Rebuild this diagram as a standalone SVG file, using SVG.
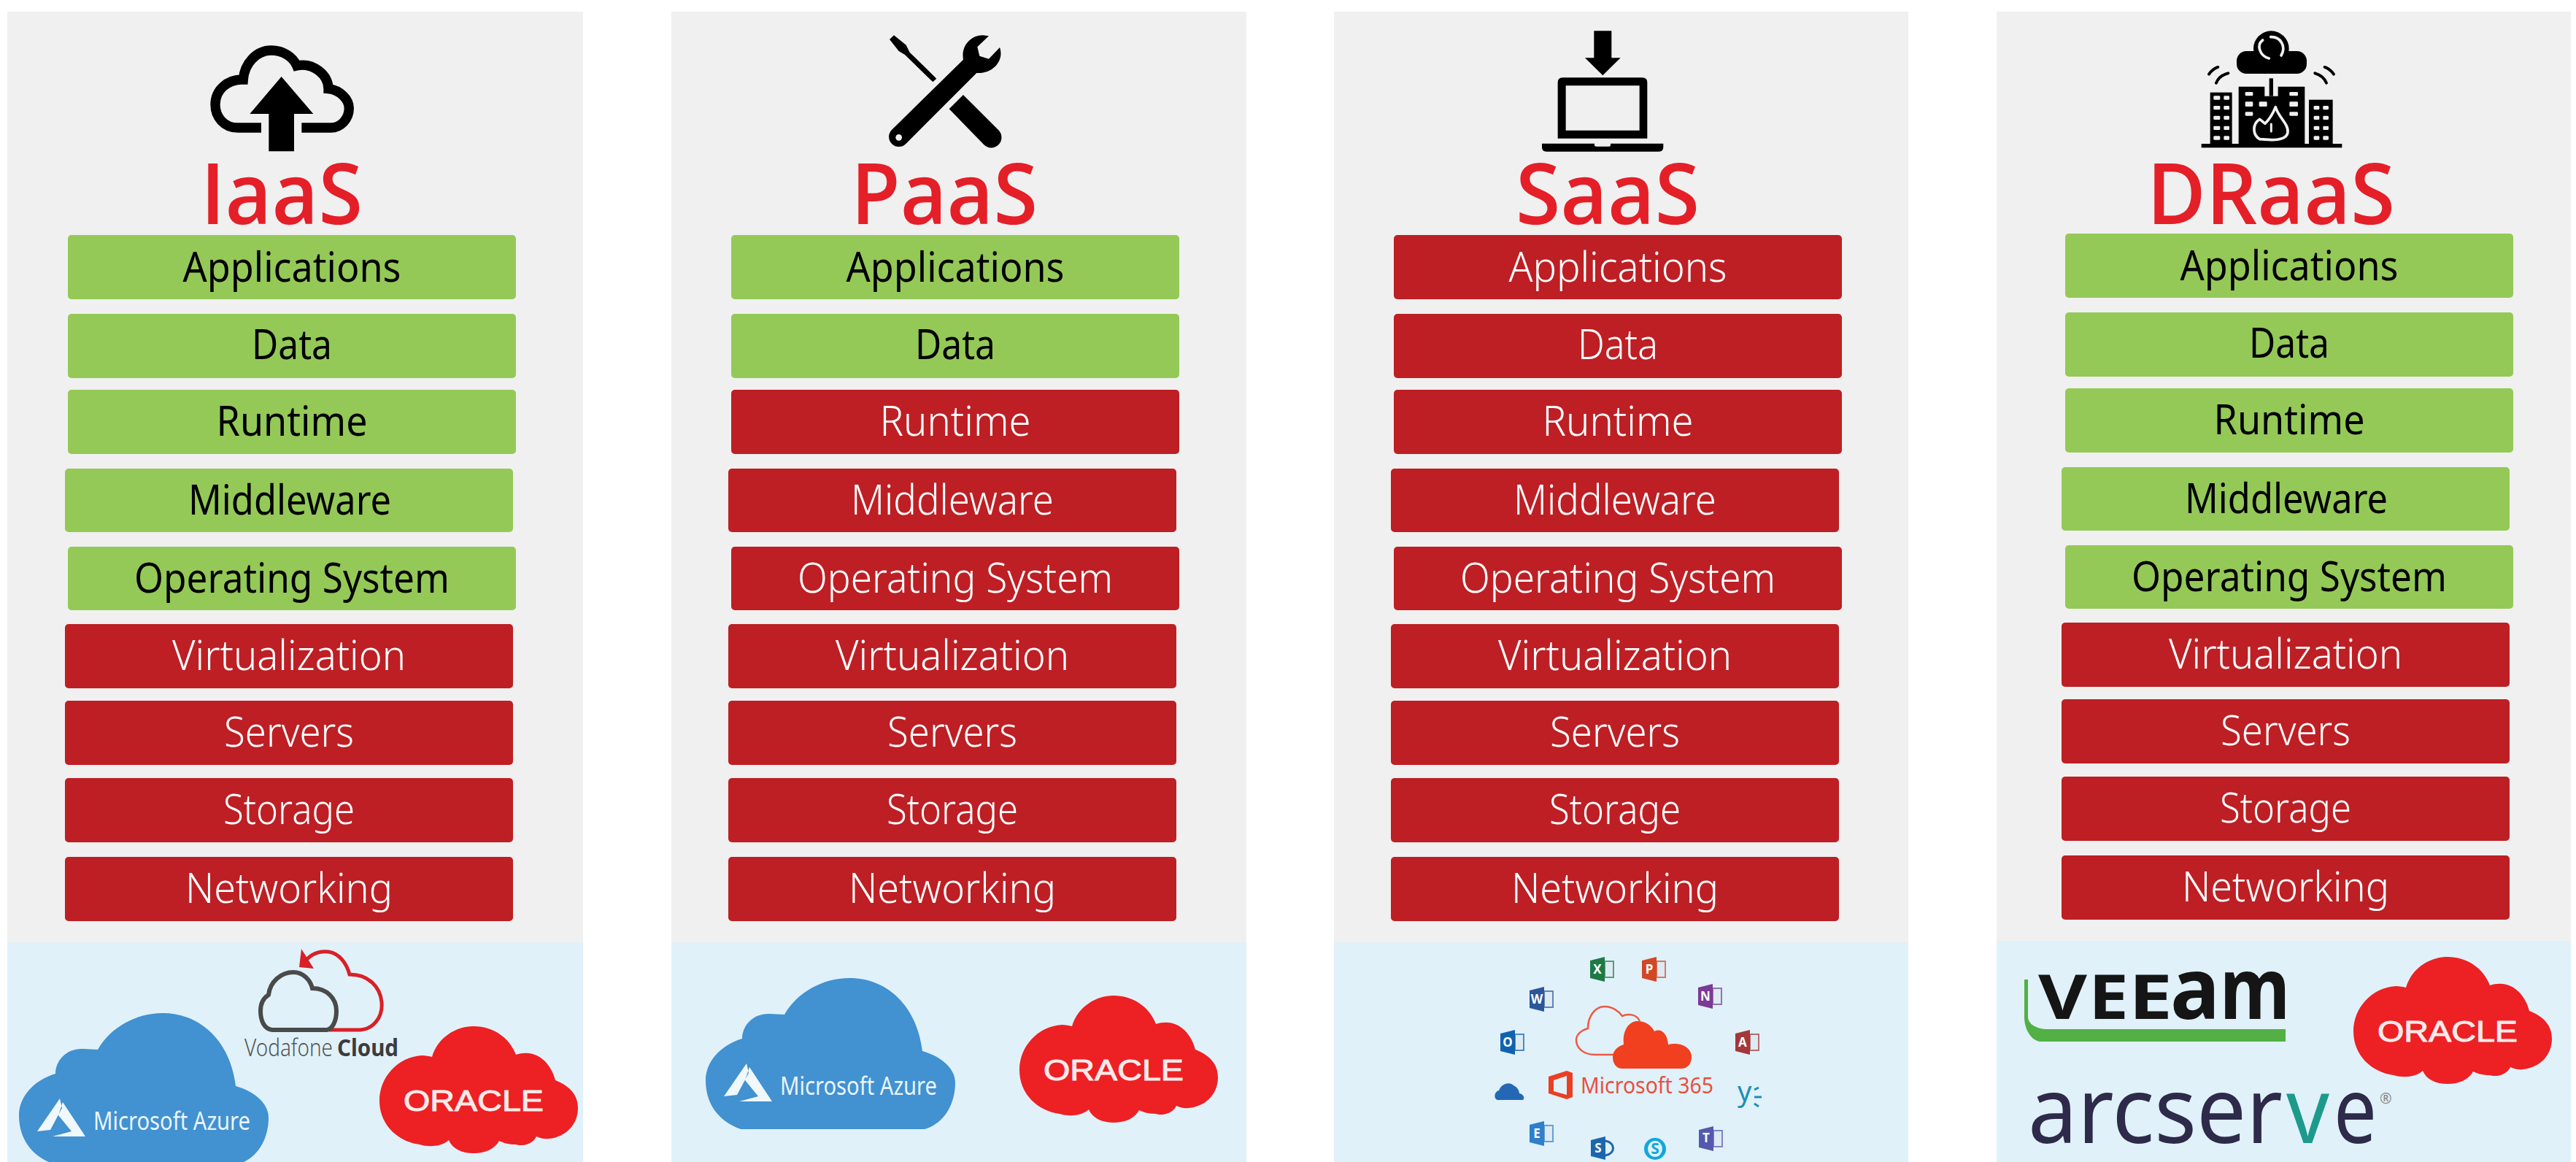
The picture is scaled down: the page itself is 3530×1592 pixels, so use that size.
<svg xmlns="http://www.w3.org/2000/svg" width="3530" height="1592" viewBox="0 0 3530 1592">
<style>
text{font-family:"Noto Sans","Open Sans","DejaVu Sans",sans-serif}
.panel{fill:#f0f0f0}.vendor{fill:#e0f1f9}
.g{fill:#94c957}.r{fill:#bd1f24}
.lg{fill:#000;font-size:57px;text-anchor:middle}.lr{fill:#fff;font-size:57px;text-anchor:middle;font-weight:300}
.title{fill:#e41f28;font-family:"Open Sans","Noto Sans",sans-serif;font-size:116px;font-weight:600}
.azure{fill:#4291d1}.oracle{fill:#ed2024}
.ot{fill:#fbeaea;stroke:#fbeaea;stroke-width:1;font-family:"Liberation Sans",sans-serif;font-size:40px}
.at{fill:#e9f5fb;font-size:34px}
.app{fill:#fff;font-size:17px;font-weight:700;text-anchor:middle}
</style>
<defs>
<path id="azureShape" class="azure" d="M48 207C15 195 0 170 0 140C0 115 20 92 50 83C50 65 65 48 88 49L108 50C125 20 160 0 197 0C250 0 290 40 297 100C325 108 342 125 342 143C342 175 325 200 300 207Z"/>
<path id="azureMark" fill="#f0f8fc" d="M56 117L25 162L43 160L59 130ZM60 122L91 169L46 169L72 162L54 140Z"/>
<path id="oracleShape" class="oracle" d="M72 42C80 15 105 0 129 0C155 0 178 15 187 39C215 30 235 50 241 74C262 82 272 95 272 112C272 135 255 152 232 154C225 155 220 153 215 151C210 162 195 165 187 162C178 162 170 160 164 157C158 168 145 174 129 174C113 174 100 168 95 156C85 165 68 166 55 162C25 158 0 135 0 102C0 70 25 42 58 40C63 40 68 41 72 42Z"/>
<g id="book"><path fill="currentColor" d="M0 5L20 0V34L0 29Z"/><rect x="20" y="6" width="12" height="22" fill="#dce8f0" stroke="currentColor" stroke-width="2" opacity=".7"/></g>
</defs>

<g id="iaas">
<rect class="panel" x="10" y="16" width="789" height="1275"/>
<rect class="vendor" x="10" y="1291" width="789" height="301"/>
<g transform="translate(200 40) scale(.3333)"><path d="M474 405H378C320 405 285 360 285 310C285 250 335 205 400 207C405 140 455 87 515 87C565 87 605 115 620 150C690 135 750 190 750 245C800 250 835 290 835 325C835 370 800 405 760 405H640" fill="none" stroke="#000" stroke-width="40"/><path d="M557 195L688 348H609V502H505V348H427Z"/></g>
<text class="title" x="275" y="307" textLength="222" lengthAdjust="spacingAndGlyphs">IaaS</text>
<g id="iaas-applications"><rect class="g" x="93" y="322" width="614" height="88" rx="5"/><text class="lg" x="400" y="386" textLength="299" lengthAdjust="spacingAndGlyphs">Applications</text></g>
<g id="iaas-data"><rect class="g" x="93" y="430" width="614" height="88" rx="5"/><text class="lg" x="400" y="492" textLength="110" lengthAdjust="spacingAndGlyphs">Data</text></g>
<g id="iaas-runtime"><rect class="g" x="93" y="534" width="614" height="88" rx="5"/><text class="lg" x="400" y="597" textLength="207" lengthAdjust="spacingAndGlyphs">Runtime</text></g>
<g id="iaas-middleware"><rect class="g" x="89" y="642" width="614" height="87" rx="5"/><text class="lg" x="397" y="705" textLength="278" lengthAdjust="spacingAndGlyphs">Middleware</text></g>
<g id="iaas-os"><rect class="g" x="93" y="749" width="614" height="87" rx="5"/><text class="lg" x="400" y="812" textLength="432" lengthAdjust="spacingAndGlyphs">Operating System</text></g>
<g id="iaas-virtualization"><rect class="r" x="89" y="855" width="614" height="88" rx="5"/><text class="lr" x="396" y="918" textLength="320" lengthAdjust="spacingAndGlyphs">Virtualization</text></g>
<g id="iaas-servers"><rect class="r" x="89" y="960" width="614" height="88" rx="5"/><text class="lr" x="396" y="1023" textLength="178" lengthAdjust="spacingAndGlyphs">Servers</text></g>
<g id="iaas-storage"><rect class="r" x="89" y="1066" width="614" height="88" rx="5"/><text class="lr" x="396" y="1129" textLength="180" lengthAdjust="spacingAndGlyphs">Storage</text></g>
<g id="iaas-networking"><rect class="r" x="89" y="1174" width="614" height="88" rx="5"/><text class="lr" x="396" y="1237" textLength="284" lengthAdjust="spacingAndGlyphs">Networking</text></g>
<g id="iaas-azure" transform="translate(26 1388)"><use href="#azureShape"/><use href="#azureMark"/><text class="at" x="102" y="160" textLength="215" lengthAdjust="spacingAndGlyphs">Microsoft Azure</text></g>
<g id="iaas-vodafone">
<path d="M415 1322C425 1305 440 1303 450 1304C465 1306 475 1320 479 1335C505 1335 521 1352 523 1373C525 1395 510 1410 494 1411H451" fill="none" stroke="#d92027" stroke-width="5"/>
<path d="M413 1300L410 1325L430 1327Z" fill="#d92027"/>
<path d="M373 1411C362 1410 357 1398 357 1385C357 1375 360 1368 368 1363C370 1345 385 1332 402 1332C415 1332 425 1342 428 1354C448 1354 461 1368 461 1385C461 1400 455 1410 448 1411Z" fill="none" stroke="#4a4a4a" stroke-width="6"/>
<text y="1447" font-size="33" fill="#555"><tspan x="335" textLength="121" lengthAdjust="spacingAndGlyphs" font-weight="300">Vodafone</tspan> <tspan x="462" textLength="84" lengthAdjust="spacingAndGlyphs" font-weight="700" fill="#3c3c3c">Cloud</tspan></text>
</g>
<g id="iaas-oracle" transform="translate(520 1406)"><use href="#oracleShape"/><text class="ot" x="33" y="116" textLength="192" lengthAdjust="spacingAndGlyphs">ORACLE</text></g>
</g>

<g id="paas">
<rect class="panel" x="920" y="16" width="788" height="1275"/>
<rect class="vendor" x="920" y="1291" width="788" height="301"/>
<g transform="translate(1150 20) scale(.3333)"><path d="M225 85L207 102L245 150L270 165L385 277L400 263L290 155L275 125Z"/><path d="M510 330L655 475A42 42 0 0 1 595 535L452 388Z"/><path d="M510 185C500 130 540 85 590 85L615 88L568 133L577 170L615 182L660 135C680 190 630 245 565 240L275 530A40 40 0 0 1 215 475Z"/><circle cx="245" cy="505" r="13" fill="#f0f0f0"/></g>
<text class="title" x="1166" y="307" textLength="256" lengthAdjust="spacingAndGlyphs">PaaS</text>
<g id="paas-applications"><rect class="g" x="1002" y="322" width="614" height="88" rx="5"/><text class="lg" x="1309" y="386" textLength="299" lengthAdjust="spacingAndGlyphs">Applications</text></g>
<g id="paas-data"><rect class="g" x="1002" y="430" width="614" height="88" rx="5"/><text class="lg" x="1309" y="492" textLength="110" lengthAdjust="spacingAndGlyphs">Data</text></g>
<g id="paas-runtime"><rect class="r" x="1002" y="534" width="614" height="88" rx="5"/><text class="lr" x="1309" y="597" textLength="207" lengthAdjust="spacingAndGlyphs">Runtime</text></g>
<g id="paas-middleware"><rect class="r" x="998" y="642" width="614" height="87" rx="5"/><text class="lr" x="1305" y="705" textLength="278" lengthAdjust="spacingAndGlyphs">Middleware</text></g>
<g id="paas-os"><rect class="r" x="1002" y="749" width="614" height="87" rx="5"/><text class="lr" x="1309" y="812" textLength="432" lengthAdjust="spacingAndGlyphs">Operating System</text></g>
<g id="paas-virtualization"><rect class="r" x="998" y="855" width="614" height="88" rx="5"/><text class="lr" x="1305" y="918" textLength="320" lengthAdjust="spacingAndGlyphs">Virtualization</text></g>
<g id="paas-servers"><rect class="r" x="998" y="960" width="614" height="88" rx="5"/><text class="lr" x="1305" y="1023" textLength="178" lengthAdjust="spacingAndGlyphs">Servers</text></g>
<g id="paas-storage"><rect class="r" x="998" y="1066" width="614" height="88" rx="5"/><text class="lr" x="1305" y="1129" textLength="180" lengthAdjust="spacingAndGlyphs">Storage</text></g>
<g id="paas-networking"><rect class="r" x="998" y="1174" width="614" height="88" rx="5"/><text class="lr" x="1305" y="1237" textLength="284" lengthAdjust="spacingAndGlyphs">Networking</text></g>
<g id="paas-azure" transform="translate(967 1340)"><use href="#azureShape"/><use href="#azureMark"/><text class="at" x="102" y="160" textLength="215" lengthAdjust="spacingAndGlyphs">Microsoft Azure</text></g>
<g id="paas-oracle" transform="translate(1397 1364)"><use href="#oracleShape"/><text class="ot" x="33" y="116" textLength="192" lengthAdjust="spacingAndGlyphs">ORACLE</text></g>
</g>

<g id="saas">
<rect class="panel" x="1828" y="16" width="787" height="1275"/>
<rect class="vendor" x="1828" y="1291" width="787" height="301"/>
<g transform="translate(2050 20) scale(.3333)"><path d="M403 67H475V178H512L439 250L366 178H403Z"/><path fill-rule="evenodd" d="M254 509V279Q254 259 274 259H602Q622 259 622 279V509ZM287 476H590V292H287Z"/><path d="M189 530H405V537Q405 542 412 542H465Q471 542 471 537V530H688V545Q688 563 670 563H207Q189 563 189 545Z"/></g>
<text class="title" x="2077" y="307" textLength="252" lengthAdjust="spacingAndGlyphs">SaaS</text>
<g id="saas-applications"><rect class="r" x="1910" y="322" width="614" height="88" rx="5"/><text class="lr" x="2217" y="386" textLength="299" lengthAdjust="spacingAndGlyphs">Applications</text></g>
<g id="saas-data"><rect class="r" x="1910" y="430" width="614" height="88" rx="5"/><text class="lr" x="2217" y="492" textLength="110" lengthAdjust="spacingAndGlyphs">Data</text></g>
<g id="saas-runtime"><rect class="r" x="1910" y="534" width="614" height="88" rx="5"/><text class="lr" x="2217" y="597" textLength="207" lengthAdjust="spacingAndGlyphs">Runtime</text></g>
<g id="saas-middleware"><rect class="r" x="1906" y="642" width="614" height="87" rx="5"/><text class="lr" x="2213" y="705" textLength="278" lengthAdjust="spacingAndGlyphs">Middleware</text></g>
<g id="saas-os"><rect class="r" x="1910" y="749" width="614" height="87" rx="5"/><text class="lr" x="2217" y="812" textLength="432" lengthAdjust="spacingAndGlyphs">Operating System</text></g>
<g id="saas-virtualization"><rect class="r" x="1906" y="855" width="614" height="88" rx="5"/><text class="lr" x="2213" y="918" textLength="320" lengthAdjust="spacingAndGlyphs">Virtualization</text></g>
<g id="saas-servers"><rect class="r" x="1906" y="960" width="614" height="88" rx="5"/><text class="lr" x="2213" y="1023" textLength="178" lengthAdjust="spacingAndGlyphs">Servers</text></g>
<g id="saas-storage"><rect class="r" x="1906" y="1066" width="614" height="88" rx="5"/><text class="lr" x="2213" y="1129" textLength="180" lengthAdjust="spacingAndGlyphs">Storage</text></g>
<g id="saas-networking"><rect class="r" x="1906" y="1174" width="614" height="88" rx="5"/><text class="lr" x="2213" y="1237" textLength="284" lengthAdjust="spacingAndGlyphs">Networking</text></g>
<g id="saas-m365">
<path d="M2212 1445H2186C2170 1445 2160 1436 2160 1425C2160 1418 2166 1412 2176 1409C2176 1392 2186 1379 2199 1379C2209 1379 2218 1385 2223 1392C2232 1388 2243 1390 2247 1399" fill="none" stroke="#ee5a44" stroke-width="2.5"/>
<path d="M2223 1464C2214 1464 2210 1456 2210 1448C2210 1440 2216 1434 2225 1431C2223 1412 2232 1399 2244 1399C2255 1399 2263 1405 2267 1413C2277 1408 2285 1417 2286 1431C2306 1427 2318 1437 2318 1448C2318 1458 2312 1464 2304 1464Z" fill="#f0401f"/>
<path fill-rule="evenodd" d="M2122 1475L2147 1467L2155 1470V1503L2147 1506L2122 1498ZM2129 1480V1495L2147 1500V1474Z" fill="#ea3f23"/>
<text x="2166" y="1498" font-size="30" fill="#e8503f" textLength="182" lengthAdjust="spacingAndGlyphs">Microsoft 365</text>
<g transform="translate(2179 1311)" style="color:#1e7a45"><use href="#book"/><text class="app" x="10" y="23">X</text></g>
<g transform="translate(2250 1311)" style="color:#d24726"><use href="#book"/><text class="app" x="10" y="23">P</text></g>
<g transform="translate(2327 1348)" style="color:#7b3a96"><use href="#book"/><text class="app" x="10" y="23">N</text></g>
<g transform="translate(2378 1411)" style="color:#a4373a"><use href="#book"/><text class="app" x="10" y="23">A</text></g>
<g transform="translate(2096 1352)" style="color:#2b579a"><use href="#book"/><text class="app" x="10" y="23">W</text></g>
<g transform="translate(2056 1411)" style="color:#0f62b0"><use href="#book"/><text class="app" x="10" y="23">O</text></g>
<path d="M2052 1507C2046 1505 2048 1495 2054 1494C2057 1485 2068 1481 2074 1487C2080 1490 2082 1495 2082 1498C2088 1499 2090 1505 2087 1507Z" fill="#2468b5"/>
<g transform="translate(2096 1536)" style="color:#2f7fcb"><use href="#book"/><text class="app" x="10" y="23">E</text></g>
<g transform="translate(2180 1557)" style="color:#1b66ae"><path fill="currentColor" d="M0 5L20 0V32L0 27Z"/><path d="M20 6C34 8 34 24 20 26" fill="none" stroke="currentColor" stroke-width="3"/><text class="app" x="10" y="22">S</text></g>
<g transform="translate(2253 1559)"><ellipse cx="15" cy="15" rx="15" ry="15" fill="#10a7dc"/><ellipse cx="15" cy="15" rx="10" ry="11" fill="#e0f1f9"/><text x="15" y="22" font-size="21" font-weight="700" fill="#10a7dc" text-anchor="middle">S</text></g>
<g transform="translate(2328 1543)" style="color:#5558af"><use href="#book"/><text class="app" x="10" y="22">T</text></g>
<text x="2381" y="1509" font-size="38" fill="#1d8eb5">y</text>
<path d="M2404 1493L2410 1490M2404 1503H2414M2404 1512L2410 1516" stroke="#1d8eb5" stroke-width="3" fill="none"/>
</g>
</g>

<g id="draas">
<rect class="panel" x="2736" y="16" width="787" height="1273"/>
<rect class="vendor" x="2736" y="1289" width="787" height="303"/>
<g transform="translate(2930 20) scale(.3333)">
<rect x="405" y="150" width="288" height="93" rx="40"/><circle cx="547" cy="140" r="73"/>
<g fill="none" stroke="#f0f0f0" stroke-width="11" stroke-linecap="round"><path d="M538 180C500 170 485 125 512 105"/><path d="M545 92C585 90 610 130 588 168"/></g>
<g fill="none" stroke="#000" stroke-width="12" stroke-linecap="round"><path d="M291 245C300 232 312 222 328 216"/><path d="M321 281C328 262 345 248 370 241"/><path d="M804 245C795 232 783 222 767 216"/><path d="M774 281C767 262 750 248 727 241"/></g>
<rect x="260" y="531" width="578" height="16"/>
<rect x="296" y="320" width="90" height="215"/><rect x="702" y="350" width="98" height="185"/>
<path d="M413 296H520V335H575V296H685V535H413Z"/><rect x="539" y="262" width="16" height="73"/>
<g fill="#f0f0f0"><rect x="310" y="334" width="27" height="16" rx="4"/><rect x="352" y="334" width="23" height="16" rx="4"/><rect x="310" y="375" width="27" height="16" rx="4"/><rect x="352" y="375" width="23" height="16" rx="4"/><rect x="310" y="416" width="27" height="16" rx="4"/><rect x="352" y="416" width="23" height="16" rx="4"/><rect x="310" y="458" width="27" height="16" rx="4"/><rect x="352" y="458" width="23" height="16" rx="4"/><rect x="310" y="499" width="27" height="16" rx="4"/><rect x="352" y="499" width="23" height="16" rx="4"/>
<rect x="722" y="375" width="23" height="16" rx="4"/><rect x="760" y="375" width="23" height="16" rx="4"/><rect x="722" y="416" width="23" height="16" rx="4"/><rect x="760" y="416" width="23" height="16" rx="4"/><rect x="722" y="458" width="23" height="16" rx="4"/><rect x="760" y="458" width="23" height="16" rx="4"/><rect x="722" y="499" width="23" height="16" rx="4"/><rect x="760" y="499" width="23" height="16" rx="4"/>
<rect x="440" y="318" width="32" height="16" rx="4"/><rect x="622" y="318" width="35" height="16" rx="4"/><rect x="440" y="358" width="32" height="20" rx="4"/><rect x="622" y="358" width="35" height="20" rx="4"/><rect x="497" y="358" width="33" height="20" rx="4"/><rect x="440" y="400" width="32" height="16" rx="4"/><rect x="622" y="400" width="35" height="16" rx="4"/></g>
<path d="M500 512C470 495 468 450 500 430L522 448C540 430 555 405 565 380C575 420 620 450 615 485C610 510 580 515 550 515Z" fill="none" stroke="#f0f0f0" stroke-width="11" stroke-linejoin="round"/>
<path d="M547 450V480" stroke="#f0f0f0" stroke-width="9" stroke-linecap="round"/>
</g>
<text class="title" x="2942" y="307" textLength="340" lengthAdjust="spacingAndGlyphs">DRaaS</text>
<g id="draas-applications"><rect class="g" x="2830" y="320" width="614" height="88" rx="5"/><text class="lg" x="3137" y="384" textLength="299" lengthAdjust="spacingAndGlyphs">Applications</text></g>
<g id="draas-data"><rect class="g" x="2830" y="428" width="614" height="88" rx="5"/><text class="lg" x="3137" y="490" textLength="110" lengthAdjust="spacingAndGlyphs">Data</text></g>
<g id="draas-runtime"><rect class="g" x="2830" y="532" width="614" height="88" rx="5"/><text class="lg" x="3137" y="595" textLength="207" lengthAdjust="spacingAndGlyphs">Runtime</text></g>
<g id="draas-middleware"><rect class="g" x="2825" y="640" width="614" height="87" rx="5"/><text class="lg" x="3133" y="703" textLength="278" lengthAdjust="spacingAndGlyphs">Middleware</text></g>
<g id="draas-os"><rect class="g" x="2830" y="747" width="614" height="87" rx="5"/><text class="lg" x="3137" y="810" textLength="432" lengthAdjust="spacingAndGlyphs">Operating System</text></g>
<g id="draas-virtualization"><rect class="r" x="2825" y="853" width="614" height="88" rx="5"/><text class="lr" x="3132" y="916" textLength="320" lengthAdjust="spacingAndGlyphs">Virtualization</text></g>
<g id="draas-servers"><rect class="r" x="2825" y="958" width="614" height="88" rx="5"/><text class="lr" x="3132" y="1021" textLength="178" lengthAdjust="spacingAndGlyphs">Servers</text></g>
<g id="draas-storage"><rect class="r" x="2825" y="1064" width="614" height="88" rx="5"/><text class="lr" x="3132" y="1127" textLength="180" lengthAdjust="spacingAndGlyphs">Storage</text></g>
<g id="draas-networking"><rect class="r" x="2825" y="1172" width="614" height="88" rx="5"/><text class="lr" x="3132" y="1235" textLength="284" lengthAdjust="spacingAndGlyphs">Networking</text></g>
<g id="draas-veeam">
<path d="M2774 1342V1393C2774 1412 2785 1427 2797 1427H3132V1410H2803C2790 1409 2779 1403 2779 1393V1342Z" fill="#52b044"/>
<text y="1396" fill="#151515" font-weight="700" font-family="Liberation Sans" font-size="85"><tspan x="2793" textLength="67" lengthAdjust="spacingAndGlyphs">V</tspan><tspan x="2862" textLength="55" lengthAdjust="spacingAndGlyphs">E</tspan><tspan x="2917" textLength="60" lengthAdjust="spacingAndGlyphs">E</tspan><tspan x="2974" font-size="117" textLength="68" lengthAdjust="spacingAndGlyphs">a</tspan><tspan x="3042" font-size="117" textLength="96" lengthAdjust="spacingAndGlyphs">m</tspan></text>
</g>
<g id="draas-oracle" transform="translate(3225 1311)"><use href="#oracleShape"/><text class="ot" x="33" y="116" textLength="192" lengthAdjust="spacingAndGlyphs">ORACLE</text></g>
<g id="draas-arcserve">
<text y="1566" font-size="127" fill="#2d2a4a"><tspan x="2779" textLength="349" lengthAdjust="spacingAndGlyphs">arcser</tspan><tspan x="3133" textLength="59" lengthAdjust="spacingAndGlyphs" fill="#1d9a8c">v</tspan><tspan x="3198" textLength="59" lengthAdjust="spacingAndGlyphs">e</tspan><tspan x="3261" y="1512" font-size="20" fill="#888">®</tspan></text>
</g>
</g>
</svg>
